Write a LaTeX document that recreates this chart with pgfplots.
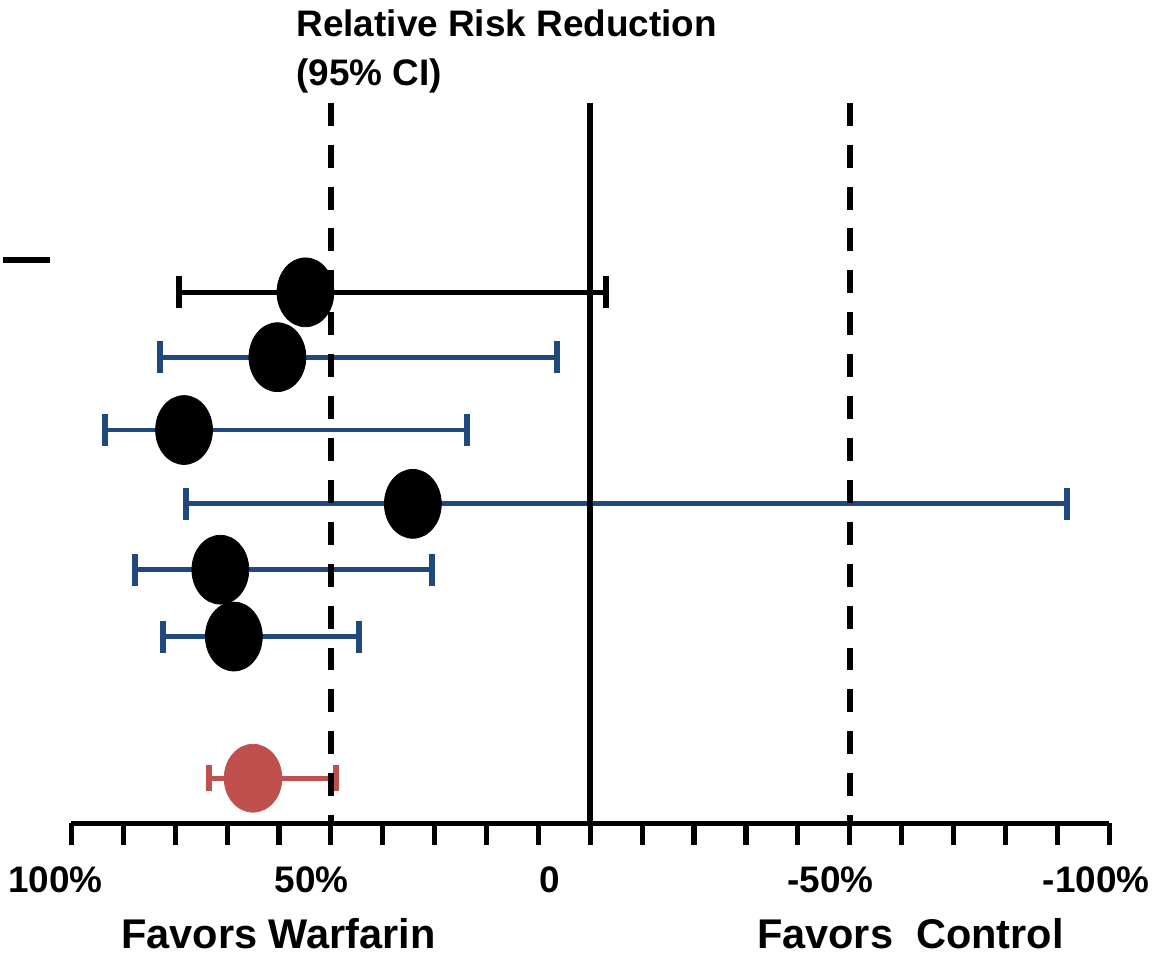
\documentclass[border=0pt]{standalone}
\usepackage{fontspec}
\setmainfont{Liberation Sans}
\usepackage{pgfplots}
\pgfplotsset{compat=1.18}
\usepackage{pgfplotstable}
\definecolor{navy}{HTML}{1F497D}
\definecolor{brick}{HTML}{C0504D}

\pgfplotstableread{
c lo hi y
54.9 -3.1 79.3 667
}\rowA
\pgfplotstableread{
c lo hi y
60.3 6.5 83.0 602
78.3 23.7 93.6 529
34.2 -91.9 77.9 455
71.3 30.5 87.8 389
68.7 44.5 82.4 322
}\rowsB
\pgfplotstableread{
c lo hi y
65.0 49.0 73.5 180
}\rowC

\begin{document}
\begin{tikzpicture}
\begin{axis}[
  x=2.6pt, y=0.5pt,
  xmin=-100, xmax=100, ymin=135, ymax=857,
  x dir=reverse,
  axis x line*=bottom, axis y line=none,
  x axis line style={-, line width=2.6pt},
  xtick={-100,-90,...,100}, xticklabels={},
  xtick align=outside, major tick length=11pt,
  x tick style={black, line width=2.6pt},
  clip=false,
]
\path (axis cs:113.27,0) rectangle (axis cs:-109.62,960);

\addplot[black, only marks, mark=*, mark size=17.25pt,
  mark options={xscale=0.826, draw=none, fill=black},
  error bars/.cd, x dir=both, x explicit,
  error bar style={line width=2.4pt, black},
  error mark options={rotate=90, line width=3pt, mark size=8pt, black}]
  table[x=c, y=y, x error plus expr=\thisrow{hi}-\thisrow{c}, x error minus expr=\thisrow{c}-\thisrow{lo}] {\rowA};

\addplot[black, only marks, mark=*, mark size=17.25pt,
  mark options={xscale=0.826, draw=none, fill=black},
  error bars/.cd, x dir=both, x explicit,
  error bar style={line width=2.4pt, navy},
  error mark options={rotate=90, line width=3pt, mark size=8pt, navy}]
  table[x=c, y=y, x error plus expr=\thisrow{hi}-\thisrow{c}, x error minus expr=\thisrow{c}-\thisrow{lo}] {\rowsB};

\addplot[brick, only marks, mark=*, mark size=17pt,
  mark options={xscale=0.85, draw=none, fill=brick},
  error bars/.cd, x dir=both, x explicit,
  error bar style={line width=2.4pt, brick},
  error mark options={rotate=90, line width=3pt, mark size=6.5pt, brick}]
  table[x=c, y=y, x error plus expr=\thisrow{hi}-\thisrow{c}, x error minus expr=\thisrow{c}-\thisrow{lo}] {\rowC};

\addplot[black, line width=3pt] coordinates {(0,857) (0,135)};
\addplot[black, line width=3pt, dash pattern=on 11.5pt off 9.5pt] coordinates {(50,857) (50,135)};
\addplot[black, line width=3pt, dash pattern=on 11.5pt off 9.5pt] coordinates {(-50,857) (-50,135)};
\addplot[black, line width=3pt] coordinates {(50,135) (50,143)};
\addplot[black, line width=3pt] coordinates {(-50,135) (-50,143)};
\addplot[black, line width=3pt] coordinates {(113.2,699) (104.2,699)};

\node[anchor=base west, font=\fontsize{18.5}{20}\selectfont\bfseries, inner sep=0pt] at (axis cs:56.7,923) {Relative Risk Reduction};
\node[anchor=base west, font=\fontsize{18.5}{20}\selectfont\bfseries, inner sep=0pt] at (axis cs:56.7,874) {(95\% CI)};

\node[anchor=base, font=\fontsize{18.5}{20}\selectfont\bfseries, inner sep=0pt] at (axis cs:103.1,65) {100\%};
\node[anchor=base, font=\fontsize{18.5}{20}\selectfont\bfseries, inner sep=0pt] at (axis cs:53.7,65) {50\%};
\node[anchor=base, font=\fontsize{18.5}{20}\selectfont\bfseries, inner sep=0pt] at (axis cs:7.9,65) {0};
\node[anchor=base, font=\fontsize{18.5}{20}\selectfont\bfseries, inner sep=0pt] at (axis cs:-46.3,65) {-50\%};
\node[anchor=base, font=\fontsize{18.5}{20}\selectfont\bfseries, inner sep=0pt] at (axis cs:-97.5,65) {-100\%};

\node[anchor=base, font=\fontsize{20.8}{22}\selectfont\bfseries, inner sep=0pt] at (axis cs:60.1,9) {Favors Warfarin};
\node[anchor=base, font=\fontsize{20.8}{22}\selectfont\bfseries, inner sep=0pt] at (axis cs:-61.7,9) {Favors\ \ Control};
\end{axis}
\end{tikzpicture}
\end{document}
